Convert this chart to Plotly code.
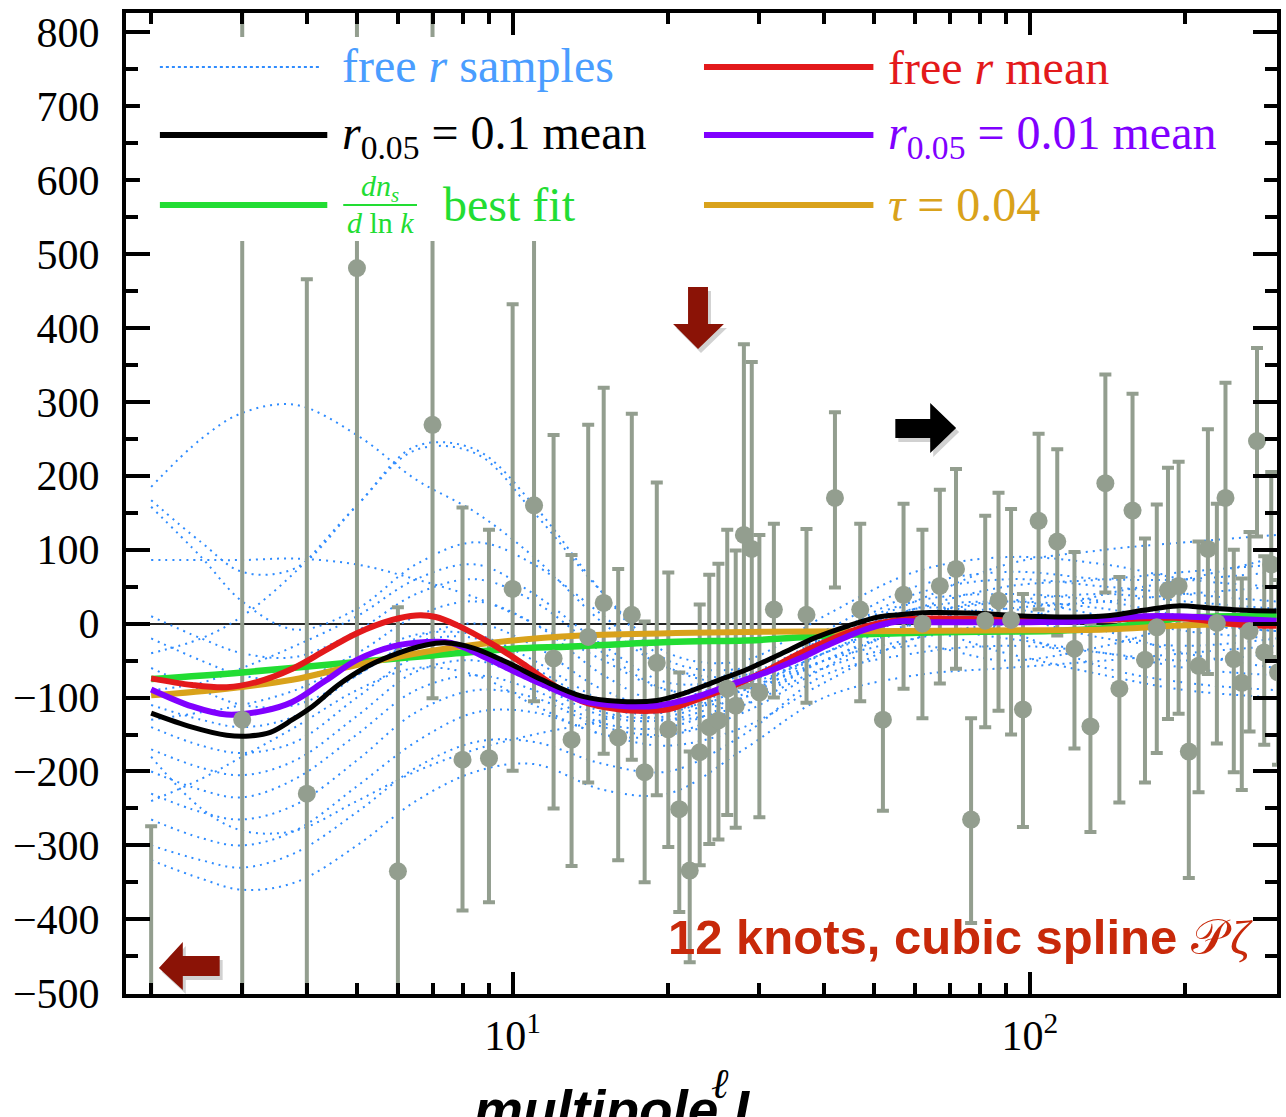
import plotly.graph_objects as go

# ------------------------------------------------------------------ data
# binned / unbinned power-spectrum estimates (multipole, value, +err, -err)
ell_data = [2, 3, 4, 5, 6, 7, 8, 9, 10, 11, 12, 13, 14, 15, 16, 17, 18, 19, 20,
            21, 22, 23, 24, 25, 26, 27, 28, 29, 30,
            32, 37, 42, 47, 52, 57, 62, 67, 72, 77, 82, 87, 92, 97,
            104, 113, 122, 131, 140, 149, 158, 167, 176, 185, 194, 203, 212,
            221, 230, 239, 248, 257, 266, 275, 284, 293, 302]
cl_data = [-720, -130, -230, 481, -335, 269, -184, -182, 47, 160, -47, -157, -18, 28,
           -154, 12, -201, -53, -143, -251, -334, -174, -140, -131, -88, -111, 120,
           101, -93,
           19, 12, 170, 19, -130, 39, 0, 51, 74, -265, 4, 31, 5, -116,
           139, 111, -34, -139, 190, -88, 153, -49, -5, 45, 51, -173, -57,
           101, 1, 170, -48, -80, -10, 247, -39, 80, -66]
err_plus = [446, 1000, 696, 560, 357, 620, 341, 309, 385, 490, 302, 250, 287, 291,
            228, 272, 204, 244, 212, 185, 161, 200, 206, 212, 215, 210, 258,
            253, 213,
            116, 116, 116, 116, 130, 123, 127, 130, 135, 137, 142, 146, 150, 156,
            118, 125, 131, 139, 147, 151, 158, 164, 166, 166, 168, 173, 168,
            162, 161, 156, 148, 141, 134, 126, 130, 125, 125]
err_minus = [500, 1000, 700, 534, 400, 370, 204, 195, 246, 265, 203, 171, 197, 204,
             166, 196, 149, 179, 159, 139, 124, 153, 158, 161, 171, 165, 206,
             184, 169,
             119, 119, 121, 124, 123, 127, 128, 132, 135, 140, 144, 149, 155, 159,
             120, 127, 135, 143, 148, 154, 156, 166, 170, 174, 173, 171, 171,
             169, 163, 150, 153, 145, 136, 129, 125, 125, 125]

# mean curves
ell_free_r = [2, 2.4, 2.8, 3.2, 3.75, 4.35, 5.0, 5.85, 6.5, 7.1, 7.8, 9.1, 10.5, 11.8,
              13.6, 16, 18.5, 20, 22.9, 26.5, 30.9, 35.7, 41.3, 48, 55.6, 64, 80,
              100, 124, 150, 190, 220, 260, 300]
val_free_r = [-74, -83, -86, -79, -61, -36, -13, 5, 11, 9, -2, -27, -55, -80,
              -105, -116, -118, -116, -102, -85, -64, -41, -21, -4, 5, 7, 6,
              5, 4, 6, 8, 4, -2, -3]

ell_r01 = [2, 2.4, 2.8, 3.1, 3.4, 3.75, 4.1, 4.6, 5.2, 5.85, 6.8, 7.4, 8.4, 9.8, 11.4,
           13.6, 16, 19, 21.3, 24.7, 28.6, 33, 38.5, 44.6, 51, 56, 64, 79, 99, 124,
           143, 166, 193, 223, 260, 300]
val_r01 = [-121, -140, -151, -152, -147, -130, -112, -83, -59, -43, -29, -26, -33, -53,
           -76, -98, -105, -104, -95, -78, -61, -41, -19, -3, 9, 12, 15, 14, 10, 9,
           11, 18, 24, 21, 18, 17]

ell_r001 = [2, 2.4, 2.8, 3.3, 3.75, 4.35, 5.0, 5.85, 6.8, 7.6, 8.7, 10.1, 11.5, 13.6,
            16, 19, 22.9, 26.5, 30.9, 35.7, 41.3, 48, 55.6, 64, 80, 100, 124, 166,
            193, 223, 300]
val_r001 = [-89, -112, -123, -118, -106, -77, -49, -31, -25, -26, -43, -65, -83, -104,
            -111, -111, -98, -82, -66, -48, -27, -8, 3, 2, 2, 2, 3, 10,
            10, 8, 4]

ell_running = [2, 3, 5, 7, 10, 13, 20, 30, 41, 56, 80, 110, 140, 170, 200, 250, 300]
val_running = [-75, -66, -52, -43, -34, -31, -25, -22, -16, -13, -11, -10, -6, 2, 8, 10, 10]

ell_tau = [2, 2.8, 3.75, 5.0, 6.8, 9.1, 11.5, 13.6, 20, 31, 56, 100, 140, 190, 250, 300]
val_tau = [-97, -88, -76, -56, -38, -26, -19, -16, -13, -11, -10, -9, -8, -3, 0, 1]

# free-r posterior samples (values at the knots below)
sample_ell = [2, 2.5, 3, 3.8, 5, 6.5, 8.5, 11, 15, 20, 28, 40, 60, 90, 140, 200, 300]
free_r_samples = [
    [185, 250, 285, 296, 255, 195, 150, 90, 0, -60, -70, -20, 40, 60, 50, 40, 30],
    [167, 110, 70, 75, 160, 240, 235, 160, 40, -50, -60, -10, 50, 70, 60, 60, 70],
    [86, 86, 86, 88, 80, 60, 35, 0, -50, -90, -80, -30, 20, 30, 20, 0, -10],
    [158, 90, 30, -8, 20, 80, 110, 80, 10, -60, -80, -40, 10, 30, 40, 30, 20],
    [-40, -20, 10, 70, 160, 235, 230, 150, 40, -40, -50, 10, 70, 90, 80, 60, 50],
    [-320, -345, -360, -350, -300, -240, -200, -190, -225, -230, -170, -100, -70, -60, -50, -40, -30],
    [-300, -320, -330, -310, -255, -195, -160, -160, -190, -200, -150, -70, -40, -30, -40, -60, -70],
    [-265, -290, -300, -280, -220, -160, -120, -120, -150, -165, -140, -80, -20, 0, 10, 0, -10],
    [-230, -255, -265, -245, -185, -120, -90, -100, -140, -150, -120, -60, 0, 20, 30, 40, 50],
    [-200, -225, -235, -210, -150, -90, -70, -90, -135, -140, -100, -40, 10, 30, 10, -10, -20],
    [-170, -195, -205, -185, -125, -65, -50, -80, -125, -130, -95, -30, 20, 10, -20, -30, -20],
    [-140, -165, -175, -160, -100, -45, -35, -70, -120, -125, -85, -20, 30, 40, 30, 10, 0],
    [-110, -130, -140, -125, -70, -25, -20, -60, -110, -120, -80, -25, 20, 50, 60, 70, 80],
    [-60, -90, -110, -110, -70, -20, 0, -30, -90, -115, -90, -40, 0, 20, -10, -40, -60],
    [-20, -50, -70, -75, -40, 10, 30, 0, -70, -110, -100, -50, -10, -20, -40, -50, -40],
    [10, -20, -40, -45, -10, 40, 60, 30, -40, -90, -90, -50, -20, 0, 40, 60, 90],
    [-240, -210, -180, -140, -90, -60, -70, -110, -150, -150, -110, -50, -10, -40, -70, -90, -100],
    [-130, -120, -110, -90, -50, -15, -15, -50, -105, -130, -110, -60, -30, -50, -30, 0, 20],
    [-90, -80, -60, -30, 10, 60, 80, 40, -30, -80, -70, -20, 30, 80, 100, 110, 120],
    [-180, -250, -280, -280, -240, -200, -170, -150, -130, -100, -60, -20, 10, -10, -60, -80, -90],
]

y_tick_vals = list(range(-500, 801, 100))
y_minor_vals = list(range(-450, 801, 100))
x_tick_vals = [10, 100]
x_tick_text = ["10<sup>1</sup>", "10<sup>2</sup>"]
x_minor_vals = [2, 3, 4, 5, 6, 7, 8, 9, 20, 30, 40, 50, 60, 70, 80, 90, 200, 300]

# ------------------------------------------------------------------ style
W, H = 1286, 1117
L, R, T, B = 126, 1281, 13, 994
GREY = "rgb(147,158,143)"
BLUE = "#2f8cff"
BLUE_TXT = "#4a9dff"
RED = "#e3191b"
BLACK = "#000000"
PURPLE = "#8000ff"
GREEN = "#22dd33"
GOLD = "#d9a21b"
DARKRED = "#8b1306"
SERIF = "Liberation Serif"
SANS = "Liberation Sans, Arial"


def px(x):
    return (x - L) / (R - L)


def py(y):
    return (B - y) / (B - T)


def poly(points, dx=0, dy=0):
    return "M " + " L ".join(f"{px(x + dx):.5f},{py(y + dy):.5f}" for x, y in points) + " Z"


fig = go.Figure()

# samples
for s in free_r_samples:
    fig.add_trace(go.Scatter(x=sample_ell, y=s, mode="lines",
                             line=dict(color=BLUE, width=2, dash="2px,5px",
                                       shape="spline", smoothing=1.0),
                             hoverinfo="skip"))

# error bars (under curves)
fig.add_trace(go.Scatter(x=ell_data, y=cl_data, mode="markers",
                         marker=dict(size=18, color=GREY, opacity=0),
                         error_y=dict(type="data", symmetric=False, array=err_plus,
                                      arrayminus=err_minus, color=GREY,
                                      thickness=4, width=6)))

curves = [
    (ell_running, val_running, GREEN, 6.5),
    (ell_tau, val_tau, GOLD, 6),
    (ell_free_r, val_free_r, RED, 6),
    (ell_r001, val_r001, PURPLE, 6),
    (ell_r01, val_r01, BLACK, 5),
]
for xs, ys, c, w in curves:
    fig.add_trace(go.Scatter(x=xs, y=ys, mode="lines",
                             line=dict(color=c, width=w, shape="spline", smoothing=1.0)))

# data points on top
fig.add_trace(go.Scatter(x=ell_data, y=cl_data, mode="markers",
                         marker=dict(size=18, color=GREY)))

shapes = []
# white legend background
shapes.append(dict(type="rect", xref="paper", yref="paper", layer="above",
                   x0=px(140), x1=px(1268), y0=py(241), y1=py(37),
                   fillcolor="white", line=dict(width=0)))
# legend line samples
leg_lines = [
    (160, 322, 67, BLUE, 2, "dot"),
    (706, 876, 67, RED, 6, "solid"),
    (160, 328, 135, BLACK, 6, "solid"),
    (706, 876, 135, PURPLE, 6, "solid"),
    (160, 328, 205, GREEN, 6, "solid"),
    (706, 876, 205, GOLD, 6, "solid"),
]
for x0, x1, y, c, w, d in leg_lines:
    shapes.append(dict(type="line", xref="paper", yref="paper", layer="above",
                       x0=px(x0), x1=px(x1), y0=py(y), y1=py(y),
                       line=dict(color=c, width=w, dash=d)))
# fraction bar
shapes.append(dict(type="line", xref="paper", yref="paper", layer="above",
                   x0=px(344), x1=px(418), y0=py(205), y1=py(205),
                   line=dict(color=GREEN, width=2)))

# arrows
down_arrow = [(690, 287), (710, 287), (710, 324), (726, 324), (700, 349), (675, 324), (690, 324)]
right_arrow = [(898, 419), (933, 419), (933, 403), (959, 428), (933, 453), (933, 438), (898, 438)]
left_arrow = [(220, 956), (183, 956), (183, 942), (159, 968), (183, 990), (183, 976), (220, 976)]
for pts, col in [(down_arrow, DARKRED), (right_arrow, BLACK), (left_arrow, DARKRED)]:
    shapes.append(dict(type="path", xref="paper", yref="paper", layer="above",
                       path=poly(pts, 3, 4), fillcolor="rgba(0,0,0,0.18)",
                       line=dict(width=0)))
    shapes.append(dict(type="path", xref="paper", yref="paper", layer="above",
                       path=poly(pts), fillcolor=col, line=dict(width=0)))

annotations = []


def add_text(text, x, y, size, color, family=SERIF, xanchor="left"):
    annotations.append(dict(text=text, x=px(x), y=py(y), xref="paper", yref="paper",
                            xanchor=xanchor, yanchor="middle", showarrow=False,
                            font=dict(family=family, size=size, color=color)))


add_text("free <i>r</i> samples", 341, 65, 48, BLUE_TXT)
add_text("free <i>r</i> mean", 889, 67, 48, RED)
add_text("<i>r</i><sub>0.05</sub> = 0.1 mean", 341, 136, 48, BLACK)
add_text("<i>r</i><sub>0.05</sub> = 0.01 mean", 889, 136, 48, PURPLE)
add_text("<i>dn<sub>s</sub></i>", 381, 188, 30, GREEN, xanchor="center")
add_text("<i>d</i> ln <i>k</i>", 381, 223, 30, GREEN, xanchor="center")
add_text("best fit", 442, 204, 48, GREEN)
add_text("<i>τ</i> = 0.04", 889, 205, 48, GOLD)

add_text("<b>12 knots, cubic spline</b> "
         "<span style='font-family:Liberation Serif'>𝒫\u200a<i>ζ</i></span>",
         668, 937, 49, "#c8290a", family=SANS)
add_text("<b><i>multipole L</i></b>", 473, 1110, 55, BLACK, family=SANS)
add_text("<i>ℓ</i>", 711, 1084, 42, BLACK)

axis_common = dict(showgrid=False, showline=True, linewidth=4, linecolor="black",
                   mirror="allticks", ticks="inside", tickwidth=4, tickcolor="black",
                   tickfont=dict(family=SERIF, size=42, color="black"))

fig.update_layout(
    width=W, height=H,
    margin=dict(l=L, r=W - R, t=T, b=H - B, pad=0),
    paper_bgcolor="white", plot_bgcolor="white",
    showlegend=False,
    xaxis=dict(type="log", range=[0.2524, 2.478], zeroline=False,
               tickmode="array", tickvals=x_tick_vals, ticktext=x_tick_text,
               ticklen=22, ticklabelstandoff=2,
               minor=dict(ticks="inside", ticklen=11, tickwidth=4, tickcolor="black",
                          tickmode="array", tickvals=x_minor_vals, showgrid=False),
               **axis_common),
    yaxis=dict(range=[-501, 826], tickmode="array", tickvals=y_tick_vals,
               ticklen=24, ticklabelstandoff=14,
               zeroline=True, zerolinecolor="#222222", zerolinewidth=1.5,
               minor=dict(ticks="inside", ticklen=12, tickwidth=4, tickcolor="black",
                          tickmode="array", tickvals=y_minor_vals, showgrid=False),
               **axis_common),
    shapes=shapes,
    annotations=annotations,
)

fig.write_html("out.html")
